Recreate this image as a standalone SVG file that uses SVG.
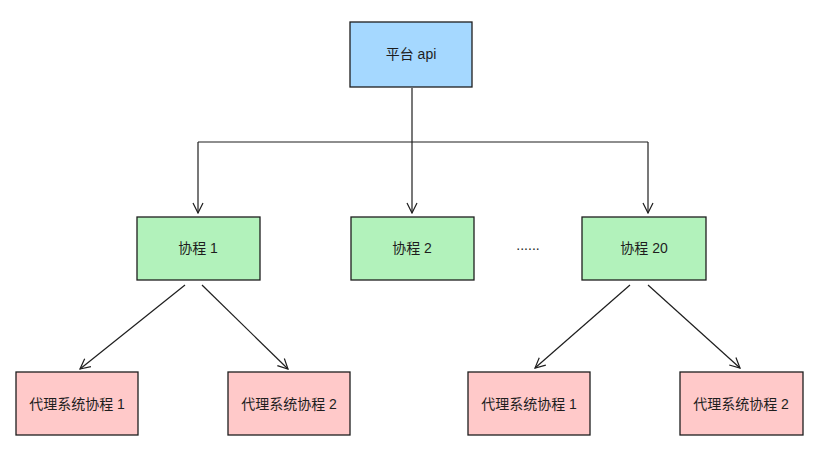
<svg xmlns="http://www.w3.org/2000/svg" width="820" height="460" viewBox="0 0 820 460">
<style>
.b{stroke:#1e1e1e;stroke-width:1.3}
.blue{fill:#a5d8ff}.green{fill:#b2f2bb}.pink{fill:#ffc9c9}
text{font-family:"Liberation Sans","Noto Sans CJK SC",sans-serif;font-size:14px;fill:#1e1e1e;text-anchor:middle;dominant-baseline:central}
.c{fill:none;stroke:#1e1e1e;stroke-width:1.2}
</style>
<defs><marker id="a" viewBox="0 0 12 12" refX="11" refY="6" markerWidth="12" markerHeight="12" markerUnits="userSpaceOnUse" orient="auto"><path d="M1,1 L11,6 L1,11" fill="none" stroke="#1e1e1e" stroke-width="1.2"/></marker></defs>
<rect width="820" height="460" fill="#fff"/>
<g id="connectors">
<path class="c" d="M412,88 V142"/>
<path class="c" d="M198,142 H648"/>
<path class="c" d="M198,142 V213" marker-end="url(#a)"/>
<path class="c" d="M412,142 V213" marker-end="url(#a)"/>
<path class="c" d="M648,142 V213" marker-end="url(#a)"/>
<path class="c" d="M185,285 L80,369" marker-end="url(#a)"/>
<path class="c" d="M202,285 L288,369" marker-end="url(#a)"/>
<path class="c" d="M630,285 L535,368" marker-end="url(#a)"/>
<path class="c" d="M648,285 L740,368" marker-end="url(#a)"/>
</g>
<g id="api"><rect class="b blue" x="350" y="22" width="122" height="65"/><text x="411" y="54">平台 api</text></g>
<g id="co1"><rect class="b green" x="137" y="217" width="123" height="63"/><text x="198" y="248">协程 1</text></g>
<g id="co2"><rect class="b green" x="351" y="217" width="123" height="63"/><text x="412" y="248">协程 2</text></g>
<g id="dots"><text x="528" y="245">......</text></g>
<g id="co20"><rect class="b green" x="582" y="217" width="124" height="63"/><text x="644" y="248">协程 20</text></g>
<g id="p1"><rect class="b pink" x="16" y="372" width="122" height="63"/><text x="77" y="404">代理系统协程 1</text></g>
<g id="p2"><rect class="b pink" x="228" y="372" width="122" height="63"/><text x="289" y="404">代理系统协程 2</text></g>
<g id="p3"><rect class="b pink" x="468" y="372" width="122" height="63"/><text x="529" y="404">代理系统协程 1</text></g>
<g id="p4"><rect class="b pink" x="680" y="372" width="123" height="63"/><text x="741" y="404">代理系统协程 2</text></g>
</svg>
